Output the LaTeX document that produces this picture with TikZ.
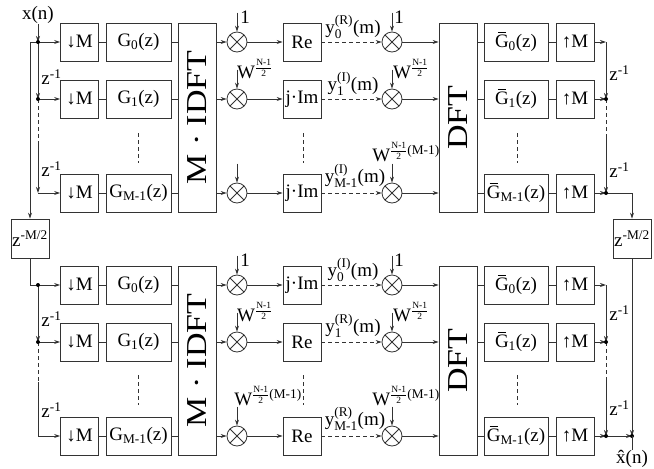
\documentclass[tikz,border=0pt]{standalone}
\usepackage{fontspec}
\usepackage{amsmath}
\usepackage{graphicx}
\setmainfont{Liberation Serif}
\usetikzlibrary{arrows.meta}
\newcommand\mygbar{\leavevmode\rlap{\hbox to 0.72em{\hss\rule[0.74em]{0.42em}{0.05em}\hss}}G}
\newcommand\wfr{W$^{\frac{\text{N-1}}{\text{2}}}$}
\newcommand\wfrm{W$^{\frac{\text{N-1}}{\text{2}}\text{(M-1)}}$}
\newcommand\zinv{z\textsuperscript{-1}}
\newcommand\bigtxt[1]{\rotatebox{90}{\scalebox{1}[0.85]{\fontsize{34}{38}\selectfont #1}}}
\begin{document}
\begin{tikzpicture}[x=1pt,y=-1pt,
  every node/.style={font=\fontsize{19}{22}\selectfont, inner sep=0pt},
  every path/.style={line width=0.8pt},
  ln/.style={draw=black!80},
  box/.style={draw=black!80, minimum height=38pt, minimum width=38pt},
  wbox/.style={box, minimum width=65pt},
  tallbox/.style={box, minimum height=189pt},
  mul/.style={draw=black!80, circle, minimum size=20pt, path picture={\draw[black!80] (path picture bounding box.south west) -- (path picture bounding box.north east) (path picture bounding box.north west) -- (path picture bounding box.south east);}},
  arr/.style={ln, -{Stealth[length=6pt,width=4pt]}},
  dsh/.style={ln, dash pattern=on 4pt off 3pt}
]
\useasboundingbox (0,0) rectangle (654,469);

% ---------------- common row structure ----------------
\foreach \g/\ya/\yb/\yc/\ym in {t/42/99/193/117.5, b/285/342/436/360.5} {
  \node[tallbox] (\g idft) at (197,\ym) {\bigtxt{M~·~IDFT}};
  \node[tallbox] (\g dft) at (458,\ym) {\bigtxt{DFT}};
  \foreach \r/\y/\s in {0/\ya/0, 1/\yb/1, 2/\yc/M-1} {
    \node[box] (\g dn\r) at (79.5,\y) {↓M};
    \node[wbox] (\g g\r) at (138.5,\y) {G\textsubscript{\s}(z)};
    \node[mul] (\g ma\r) at (237,\y) {};
    \node[mul] (\g mb\r) at (392,\y) {};
    \node[wbox, minimum width=64pt] (\g gb\r) at (516,\y) {\mygbar\textsubscript{\s}(z)};
    \node[box] (\g up\r) at (575,\y) {↑M};
  }
}
% middle boxes
\node[box] (tre0) at (302,42) {Re};
\node[box] (tre1) at (302,99) {j·Im};
\node[box] (tre2) at (302,193) {j·Im};
\node[box] (bre0) at (302,285) {j·Im};
\node[box] (bre1) at (302,342) {Re};
\node[box] (bre2) at (302,436) {Re};

% row connections
\foreach \g in {t,b} {
  \foreach \r in {0,1,2} {
    \draw[ln] (\g dn\r) -- (\g g\r);
    \draw[ln] (\g g\r.east) -- (\g g\r.east -| \g idft.west);
    \draw[arr] (\g g\r.east -| \g idft.east) -- (\g ma\r);
    \draw[arr] (\g ma\r) -- (\g re\r);
    \draw[arr, dsh] (\g re\r) -- (\g mb\r);
    \draw[arr] (\g mb\r) -- (\g mb\r -| \g dft.west);
    \draw[ln] (\g gb\r.west -| \g dft.east) -- (\g gb\r);
    \draw[ln] (\g gb\r) -- (\g up\r);
    \draw[arr] (\g ma\r.north) ++(0,-19) -- (\g ma\r.north);
    \draw[arr] (\g mb\r.north) ++(0,-19) -- (\g mb\r.north);
  }
}

% vertical dots between rows
\foreach \x in {138,303,517} {
  \draw[dsh] (\x,133) -- (\x,163);
  \draw[dsh] (\x,375) -- (\x,405);
}

% multiplier labels
\node at (245,17) {1};
\node at (399,17) {1};
\node at (255,69) {\wfr};
\node at (411,69) {\wfr};
\node at (406,152) {\wfrm};
\node at (245,260) {1};
\node at (399,260) {1};
\node at (255,312) {\wfr};
\node at (411,312) {\wfr};
\node at (268,396) {\wfrm};
\node at (406,396) {\wfrm};

% y labels
\node at (353,27) {y$_{\text{0}}^{\text{(R)}}$(m)};
\node at (353,84) {y$_{\text{1}}^{\text{(I)}}$(m)};
\node at (355,176) {y$_{\text{M-1}}^{\text{(I)}}$(m)};
\node at (353,270) {y$_{\text{0}}^{\text{(I)}}$(m)};
\node at (353,326) {y$_{\text{1}}^{\text{(R)}}$(m)};
\node at (355,419) {y$_{\text{M-1}}^{\text{(R)}}$(m)};

% ---------------- left side ----------------
\node (xn) at (38,15) {x(n)};
\node[box, minimum width=38pt, minimum height=39pt] (zml) at (30,238.5) {z\textsuperscript{-M/2}};
\node[box, minimum width=38pt, minimum height=39pt] (zmr) at (632,238.5) {z\textsuperscript{-M/2}};

\coordinate (lt0) at (38,42);
\coordinate (lt1) at (38,99);
\coordinate (ld1) at (38,142);
\coordinate (lt2) at (38,193);
\coordinate (lb0) at (38,285);
\coordinate (lb1) at (38,342);
\coordinate (ld2) at (38,382);

\draw[arr] (xn) -- (lt0);
\draw[arr] (lt0) -| (zml.north);
\draw[arr] (lt0) -- (tdn0);
\draw[arr] (lt0) -- (lt1);
\draw[arr] (lt1) -- (tdn1);
\draw[dsh] (lt1) -- (ld1);
\draw[arr] (ld1) -- (lt2);
\draw[arr] (lt2) -- (tdn2);
\draw[arr] (zml.south) |- (bdn0);
\draw[arr] (lb0) -- (lb1);
\draw[arr] (lb1) -- (bdn1);
\draw[dsh] (lb1) -- (ld2);
\draw[arr] (ld2) |- (bdn2);
\foreach \c in {lt0,lt1,lb0,lb1} \fill (\c) circle (2pt);

\node[anchor=west] at (41,77) {\zinv};
\node[anchor=west] at (41,169) {\zinv};
\node[anchor=west] at (41,319) {\zinv};
\node[anchor=west] at (41,410) {\zinv};

% ---------------- right side ----------------
\coordinate (rt0) at (606,42);
\coordinate (rt1) at (606,99);
\coordinate (rd1) at (606,138);
\coordinate (rt2) at (606,193);
\coordinate (rb0) at (606,285);
\coordinate (rb1) at (606,342);
\coordinate (rd2) at (606,380);
\coordinate (rb2) at (606,436);
\coordinate (rb3) at (632,436);

\draw[arr] (tup0) -- (rt0);
\draw[arr] (rt0) -- (rt1);
\draw[arr] (tup1) -- (rt1);
\draw[dsh] (rt1) -- (rd1);
\draw[arr] (rd1) -- (rt2);
\draw[arr] (tup2) -- (rt2);
\draw[arr] (rt2) -| (zmr.north);

\draw[arr] (bup0) -- (rb0);
\draw[arr] (rb0) -- (rb1);
\draw[arr] (bup1) -- (rb1);
\draw[dsh] (rb1) -- (rd2);
\draw[arr] (rd2) -- (rb2);
\draw[arr] (bup2) -- (rb2);
\draw[arr] (rb2) -- (rb3);
\draw[arr] (zmr.south) -- (rb3);
\foreach \c in {rt1,rt2,rb1,rb2,rb3} \fill (\c) circle (2pt);

\node (xhat) at (632,459) {\^{x}(n)};
\draw[ln] (rb3) -- (xhat);

\node[anchor=west] at (609,73) {\zinv};
\node[anchor=west] at (609,170) {\zinv};
\node[anchor=west] at (609,313) {\zinv};
\node[anchor=west] at (609,408) {\zinv};
\end{tikzpicture}
\end{document}
